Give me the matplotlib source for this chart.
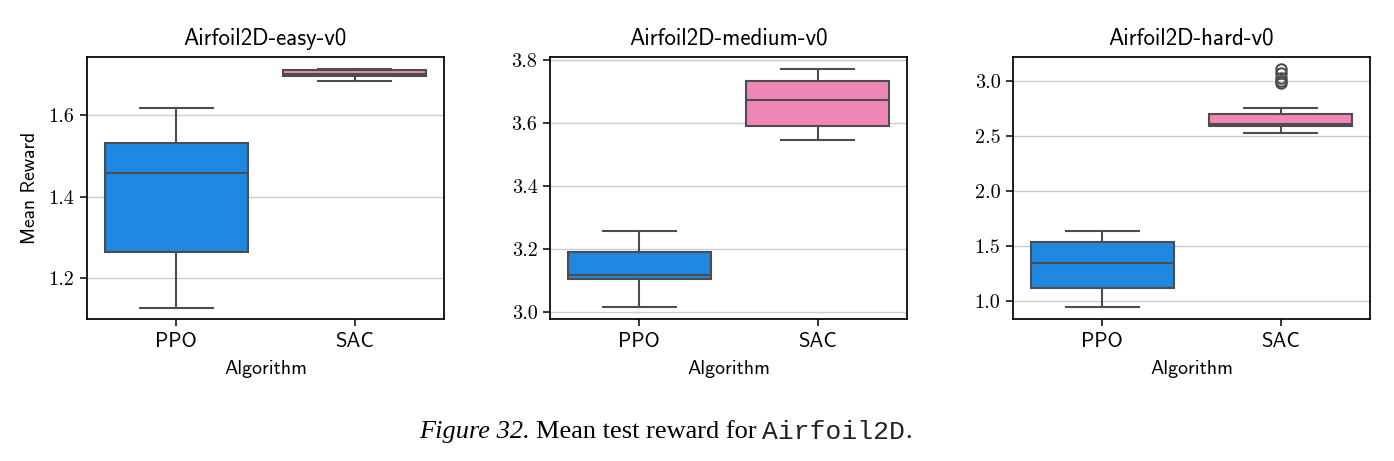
import matplotlib
matplotlib.use("Agg")
import matplotlib.pyplot as plt
from matplotlib.ticker import FuncFormatter

# ---- data ----
titles = ["Airfoil2D-easy-v0", "Airfoil2D-medium-v0", "Airfoil2D-hard-v0"]
algorithms = ["PPO", "SAC"]
# [whislo, q1, median, q3, whishi]
easy_ppo = [1.127, 1.264, 1.459, 1.531, 1.617]
easy_sac = [1.684, 1.697, 1.701, 1.710, 1.713]
medium_ppo = [3.015, 3.106, 3.117, 3.190, 3.256]
medium_sac = [3.545, 3.591, 3.672, 3.734, 3.771]
hard_ppo = [0.943, 1.121, 1.343, 1.539, 1.639]
hard_sac = [2.526, 2.591, 2.606, 2.699, 2.752]
hard_sac_fliers = [2.98, 3.00, 3.03, 3.07, 3.11]
ylims = [(1.099, 1.743), (2.978, 3.81), (0.836, 3.218)]
yticks = [[1.2, 1.4, 1.6], [3.0, 3.2, 3.4, 3.6, 3.8], [1.0, 1.5, 2.0, 2.5, 3.0]]

panels = [
    (easy_ppo, easy_sac, []),
    (medium_ppo, medium_sac, []),
    (hard_ppo, hard_sac, hard_sac_fliers),
]
colors = ["#1f88e0", "#ee87b5"]
edge = "#4d4d4d"

fig = plt.figure(figsize=(13.94, 4.61), dpi=100)
lefts = [87, 550, 1013]
W, H = 1394, 461
for i, (ppo, sac, fl) in enumerate(panels):
    ax = fig.add_axes([lefts[i] / W, 1 - 319 / H, 357 / W, 262 / H])
    stats = []
    for s, f in ((ppo, []), (sac, fl)):
        stats.append(dict(whislo=s[0], q1=s[1], med=s[2], q3=s[3], whishi=s[4], fliers=f))
    bp = ax.bxp(stats, positions=[0, 1], widths=0.8, patch_artist=True,
                showfliers=True, capwidths=0.41,
                boxprops=dict(edgecolor=edge, linewidth=1.5),
                whiskerprops=dict(color=edge, linewidth=1.5),
                capprops=dict(color=edge, linewidth=1.5),
                medianprops=dict(color=edge, linewidth=1.5),
                flierprops=dict(marker="o", markerfacecolor="none",
                                markeredgecolor=edge, markersize=7.5, markeredgewidth=1.5))
    for patch, c in zip(bp["boxes"], colors):
        patch.set_facecolor(c)
    ax.set_xlim(-0.5, 1.5)
    ax.set_ylim(*ylims[i])
    ax.set_yticks(yticks[i])
    ax.yaxis.set_major_formatter(FuncFormatter(lambda v, p: f"{v:.1f}"))
    ax.set_xticks([0, 1])
    ax.set_xticklabels(algorithms, family="cmss10", fontsize=15)
    for lab in ax.get_yticklabels():
        lab.set_family("cmr10")
        lab.set_fontsize(14.5)
    ax.grid(axis="y", color="#cccccc", linewidth=1)
    ax.set_axisbelow(True)
    for sp in ax.spines.values():
        sp.set_color("black")
        sp.set_linewidth(1.25)
    ax.tick_params(axis="both", direction="out", length=5, width=1.1, color="black", pad=4)
    ax.set_title(titles[i], family="cmss10", fontsize=16.5, pad=9)
    ax.set_xlabel("Algorithm", family="cmss10", fontsize=14.3, labelpad=7)
    if i == 0:
        ax.set_ylabel("Mean Reward", family="cmss10", fontsize=14, labelpad=7)

# caption
y = 1 - 432 / H
fs = 19
t1 = fig.text(419 / W, y, "Figure 32.", family="Liberation Serif", style="italic",
              fontsize=fs, va="center", ha="left")
fig.canvas.draw()
r = fig.canvas.get_renderer()
bb = t1.get_window_extent(r)
t2 = fig.text((bb.x1 + 6) / W, y, "Mean test reward for", family="Liberation Serif",
              fontsize=fs, va="center", ha="left")
bb2 = t2.get_window_extent(r)
t3 = fig.text((bb2.x1 + 6) / W, y, "Airfoil2D", family="Liberation Mono",
              fontsize=fs, va="center", ha="left", color="#222222")
bb3 = t3.get_window_extent(r)
fig.text(bb3.x1 / W, y, ".", family="Liberation Serif", fontsize=fs, va="center", ha="left")

fig.savefig("out.png", dpi=100)
